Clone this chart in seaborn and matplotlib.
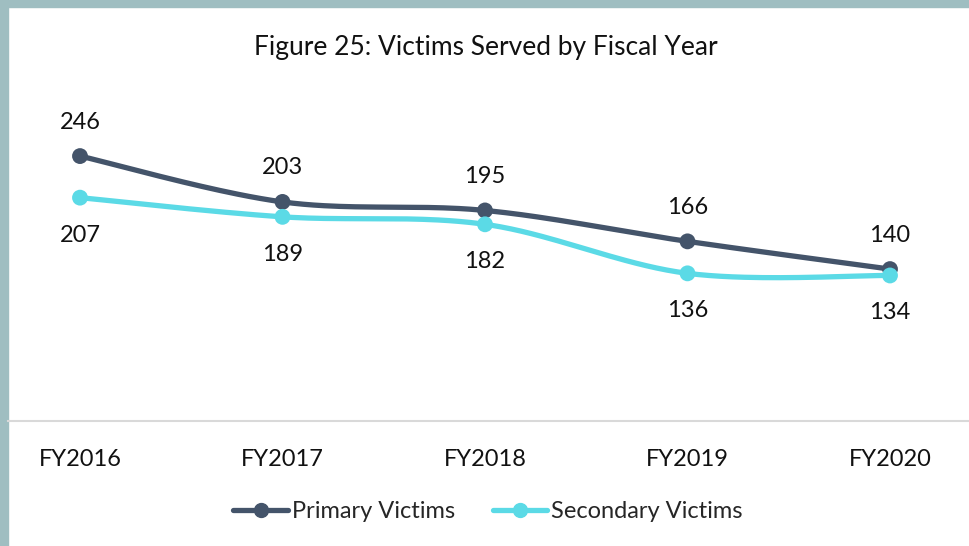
import numpy as np
import pandas as pd
import matplotlib
matplotlib.use("Agg")
import matplotlib.pyplot as plt
import seaborn as sns
from matplotlib.lines import Line2D
from matplotlib.patches import Rectangle

years = ["FY2016", "FY2017", "FY2018", "FY2019", "FY2020"]
primary = [246, 203, 195, 166, 140]
secondary = [207, 189, 182, 136, 134]
series_names = ["Primary Victims", "Secondary Victims"]
title = "Figure 25: Victims Served by Fiscal Year"

c_primary = "#44546A"
c_secondary = "#5BDAE6"
border = "#9FBEC1"

sns.set_theme(style="white")
plt.rcParams["font.family"] = ["Lato", "DejaVu Sans"]

W, H = 969, 546
fig = plt.figure(figsize=(W / 100, H / 100), dpi=100)
fig.patch.set_facecolor("white")
fig.add_artist(Rectangle((0, 0), 8 / W, 1, transform=fig.transFigure, color=border, zorder=0))
fig.add_artist(Rectangle((0, 1 - 7 / H), 1, 7 / H, transform=fig.transFigure, color=border, zorder=0))

ax_bottom = 421
ax_top = 98.5
ax = fig.add_axes([8 / W, (H - ax_bottom) / H, 1 - 8 / W, (ax_bottom - ax_top) / H])
ax.set_facecolor("none")

x = np.arange(len(years))
ax.set_xlim((8 - 80) / 202.5, (969 - 80) / 202.5)
ax.set_ylim(-2.5, 300)

def smooth(xs, ys, n=40):
    pts = ax.transData.transform(np.column_stack([xs, ys]))
    out = []
    for i in range(len(pts) - 1):
        p0 = pts[i - 1] if i > 0 else pts[i]
        p1 = pts[i]
        p2 = pts[i + 1]
        p3 = pts[i + 2] if i + 2 < len(pts) else pts[i + 1]
        c1 = p1 + (p2 - p0) / 6
        c2 = p2 - (p3 - p1) / 6
        t = np.linspace(0, 1, n)[:, None]
        seg = (1 - t) ** 3 * p1 + 3 * (1 - t) ** 2 * t * c1 + 3 * (1 - t) * t ** 2 * c2 + t ** 3 * p2
        out.append(seg if i == 0 else seg[1:])
    out = np.vstack(out)
    return ax.transData.inverted().transform(out)

frames = []
for name, vals in zip(series_names, [primary, secondary]):
    sm = smooth(x.astype(float), np.array(vals, float))
    frames.append(pd.DataFrame({"x": sm[:, 0], "y": sm[:, 1], "series": name}))
curve = pd.concat(frames, ignore_index=True)
palette = {series_names[0]: c_primary, series_names[1]: c_secondary}

sns.lineplot(data=curve, x="x", y="y", hue="series", palette=palette, sort=False,
             estimator=None, units="series", linewidth=3.8, ax=ax, legend=False,
             solid_capstyle="round")
pts = pd.DataFrame({"x": np.concatenate([x, x]), "y": primary + secondary,
                    "series": [series_names[0]] * 5 + [series_names[1]] * 5})
sns.scatterplot(data=pts, x="x", y="y", hue="series", palette=palette, s=130,
                linewidth=0, ax=ax, legend=False, zorder=5)

for i in range(len(years)):
    ax.annotate(str(primary[i]), (x[i], primary[i]), xytext=(0, 24.5), textcoords="offset points",
                ha="center", va="center", fontsize=17, color="#111111")
    ax.annotate(str(secondary[i]), (x[i], secondary[i]), xytext=(0, -27), textcoords="offset points",
                ha="center", va="center", fontsize=17, color="#111111")

ax.set_xticks(x)
ax.set_xticklabels(years, fontsize=17, color="#111111")
ax.tick_params(axis="x", length=0, pad=20)
ax.set_yticks([])
ax.set_xlabel("")
ax.set_ylabel("")
for s in ["top", "left", "right"]:
    ax.spines[s].set_visible(False)
ax.spines["bottom"].set_color("#D9D9D9")
ax.spines["bottom"].set_linewidth(1.5)

fig.text(486 / W, 1 - 47 / H, title, ha="center", va="center", fontsize=19, color="#111111")

handles = [Line2D([], [], color=c_primary, lw=3.8, marker="o", markersize=10, solid_capstyle="round"),
           Line2D([], [], color=c_secondary, lw=3.8, marker="o", markersize=10, solid_capstyle="round")]
fig.legend(handles, series_names, loc="center", bbox_to_anchor=(488 / W, 1 - 512 / H), ncol=2,
           frameon=False, fontsize=17, handlelength=2.3, handletextpad=0.17, columnspacing=1.6)

fig.savefig("out.png", dpi=100)
